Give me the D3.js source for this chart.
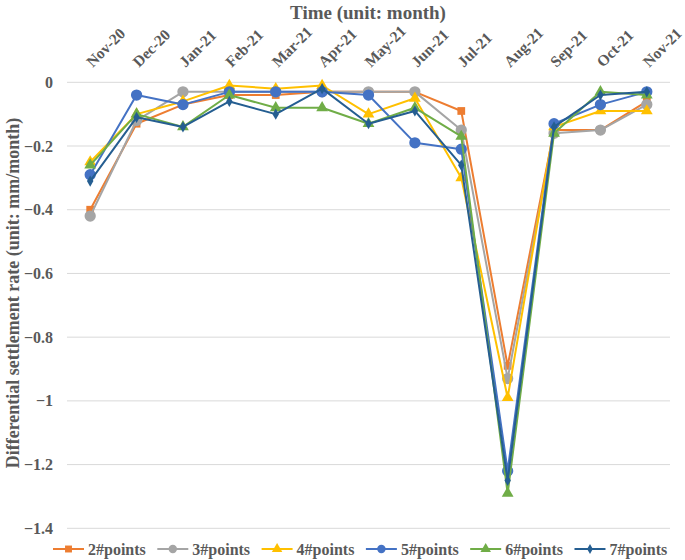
<!DOCTYPE html>
<html>
<head>
<meta charset="utf-8">
<script src="https://cdn.jsdelivr.net/npm/d3@7"></script>
<style>
  html, body { margin: 0; padding: 0; background: #fff; }
  svg { display: block; font-family: "Liberation Serif", "Times New Roman", serif; font-weight: bold; }
</style>
</head>
<body>
<svg id="chart" width="685" height="560"></svg>
<script>
const categories = ["Nov-20","Dec-20","Jan-21","Feb-21","Mar-21","Apr-21","May-21","Jun-21","Jul-21","Aug-21","Sep-21","Oct-21","Nov-21"];
const seriesNames = ["2#points","3#points","4#points","5#points","6#points","7#points"];
const p2 = [-0.40,-0.13,-0.07,-0.04,-0.04,-0.03,-0.03,-0.03,-0.09,-0.89,-0.15,-0.15,-0.06];
const p3 = [-0.42,-0.12,-0.03,-0.03,-0.03,-0.03,-0.03,-0.03,-0.15,-0.93,-0.16,-0.15,-0.07];
const p4 = [-0.25,-0.10,-0.06,-0.01,-0.02,-0.01,-0.10,-0.05,-0.30,-0.99,-0.14,-0.09,-0.09];
const p5 = [-0.29,-0.04,-0.07,-0.03,-0.03,-0.03,-0.04,-0.19,-0.21,-1.22,-0.13,-0.07,-0.03];
const p6 = [-0.26,-0.10,-0.14,-0.04,-0.08,-0.08,-0.13,-0.08,-0.17,-1.29,-0.16,-0.03,-0.04];
const p7 = [-0.31,-0.11,-0.14,-0.06,-0.10,-0.02,-0.13,-0.09,-0.26,-1.25,-0.14,-0.04,-0.03];
const yTicks = [0,-0.2,-0.4,-0.6,-0.8,-1,-1.2,-1.4];

const seriesValues = [p2,p3,p4,p5,p6,p7];
const colors = ["#ED7D31","#A5A5A5","#FFC000","#4472C4","#70AD47","#255E91"];
const symbols = [d3.symbolSquare, d3.symbolCircle, d3.symbolTriangle, d3.symbolCircle, d3.symbolTriangle, d3.symbolDiamond];
const symSizes = [60, 100, 60, 100, 60, 36];
const legendSizes = [48, 56, 48, 56, 48, 28];

const svg = d3.select("#chart");
const textColor = "#595959";

const plot = {left: 67, right: 670, top: 82.3, bottom: 528.3};
const x = d3.scalePoint().domain(categories).range([plot.left, plot.right]).padding(0.5);
const y = d3.scaleLinear().domain([-1.4, 0]).range([plot.bottom, plot.top]);

// gridlines
svg.append("g").selectAll("line").data(yTicks).join("line")
  .attr("x1", plot.left).attr("x2", plot.right)
  .attr("y1", d => y(d)).attr("y2", d => y(d))
  .attr("stroke", "#D9D9D9").attr("stroke-width", 1);

// y axis labels
const yAxis = d3.axisLeft(y).tickValues(yTicks).tickFormat(d => d3.format("")(+d.toFixed(1))).tickSize(0).tickPadding(0);
const gy = svg.append("g").attr("transform", `translate(53,0)`).call(yAxis);
gy.select(".domain").remove();
gy.selectAll("text").attr("fill", textColor).style("font-size", "16px")
  .style("font-family", "Liberation Serif").style("font-weight", "bold");

// x axis labels at top, rotated
const xAxis = d3.axisTop(x).tickSize(0).tickPadding(0);
const gx = svg.append("g").attr("transform", `translate(0,0)`).call(xAxis);
gx.select(".domain").remove();
gx.selectAll(".tick text")
  .attr("text-anchor", "start")
  .attr("fill", textColor)
  .style("font-size", "15.5px").style("font-family", "Liberation Serif").style("font-weight", "bold")
  .attr("dy", null).attr("y", null)
  .attr("transform", "translate(2,68) rotate(-45)");

// titles
svg.append("text").attr("x", 368).attr("y", 19).attr("text-anchor", "middle")
  .attr("fill", textColor).style("font-size", "19px").text("Time (unit: month)");
svg.append("text").attr("transform", "translate(19,293) rotate(-90)").attr("text-anchor", "middle")
  .attr("fill", textColor).style("font-size", "18px").text("Differential settlement rate (unit: mm/month)");

// series
const line = d3.line().x((d, i) => x(categories[i])).y(d => y(d));
seriesValues.forEach((vals, s) => {
  const g = svg.append("g");
  g.append("path").datum(vals).attr("d", line).attr("fill", "none")
    .attr("stroke", colors[s]).attr("stroke-width", 2).attr("stroke-linejoin", "round");
  g.selectAll("path.m").data(vals).join("path").attr("class", "m")
    .attr("d", d3.symbol().type(symbols[s]).size(symSizes[s]))
    .attr("transform", (d, i) => `translate(${x(categories[i])},${y(d)})`)
    .attr("fill", colors[s]);
});

// legend
const lg = svg.append("g").attr("transform", "translate(0,549)");
let lx = 53;
seriesNames.forEach((name, s) => {
  const it = lg.append("g").attr("transform", `translate(${lx},0)`);
  it.append("line").attr("x1", 0).attr("x2", 31).attr("y1", 0).attr("y2", 0)
    .attr("stroke", colors[s]).attr("stroke-width", 2);
  it.append("path").attr("d", d3.symbol().type(symbols[s]).size(legendSizes[s]))
    .attr("transform", "translate(15.5,0)").attr("fill", colors[s]);
  const t = it.append("text").attr("x", 35).attr("y", 5.5).attr("fill", textColor)
    .style("font-size", "16px").text(name);
  lx += 35 + t.node().getComputedTextLength() + 11.5;
});
</script>
</body>
</html>
